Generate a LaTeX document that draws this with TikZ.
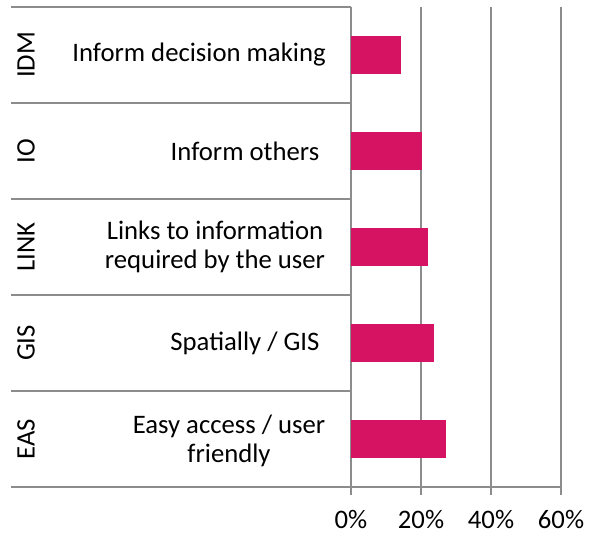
\documentclass[tikz,border=0pt]{standalone}
\usepackage{fontspec}
\setmainfont{Carlito}
\usepackage{tikz}
\definecolor{barpink}{RGB}{214,18,99}
\definecolor{rulegray}{RGB}{140,140,140}

\begin{document}
\begin{tikzpicture}[x=1pt,y=-1pt,
    rule/.style={draw=rulegray,line width=2pt},
    bar/.style={fill=barpink,draw=none},
    lbl/.style={font=\fontsize{26.7}{28.5}\selectfont,inner sep=0pt,align=center},
    code/.style={lbl,rotate=90}]
  \useasboundingbox (0,0) rectangle (593,534);

  % gridlines and axes
  \draw[rule] (421,7) -- (421,495);
  \draw[rule] (491,7) -- (491,495);
  \draw[rule] (561,7) -- (561,495);
  \draw[rule] (11,7)   -- (351,7);
  \draw[rule] (11,103) -- (351,103);
  \draw[rule] (11,199) -- (351,199);
  \draw[rule] (11,295) -- (351,295);
  \draw[rule] (11,391) -- (351,391);
  \draw[rule] (11,487) -- (561,487);
  \draw[rule] (342,487) -- (351,487);
  \draw[rule] (351,7) -- (351,495);

  % bars
  \fill[bar] (351,36)  rectangle (401,74);
  \fill[bar] (351,132) rectangle (422,170);
  \fill[bar] (351,228) rectangle (428,266);
  \fill[bar] (351,324) rectangle (434,362);
  \fill[bar] (351,420) rectangle (446,458);

  % category codes
  \node[code] (idm)  at (26,55)  {IDM};
  \node[code] (io)   at (26,151) {IO};
  \node[code] (link) at (26,247) {LINK};
  \node[code] (gis)  at (26,343) {GIS};
  \node[code] (eas)  at (26,439) {EAS};

  % category texts
  \node[lbl] (idm-txt)  at (199,55)  {Inform decision making};
  \node[lbl] (io-txt)   at (245,151) {Inform others};
  \node[lbl] (link-txt) at (215,247) {Links to information\\required by the user};
  \node[lbl] (gis-txt)  at (245,343) {Spatially / GIS};
  \node[lbl] (eas-txt)  at (229,441) {Easy access / user\\friendly};

  % axis ticks
  \node[lbl] (tick-0)  at (351,519) {0\%};
  \node[lbl] (tick-20) at (421,519) {20\%};
  \node[lbl] (tick-40) at (491,519) {40\%};
  \node[lbl] (tick-60) at (561,519) {60\%};
\end{tikzpicture}
\end{document}
